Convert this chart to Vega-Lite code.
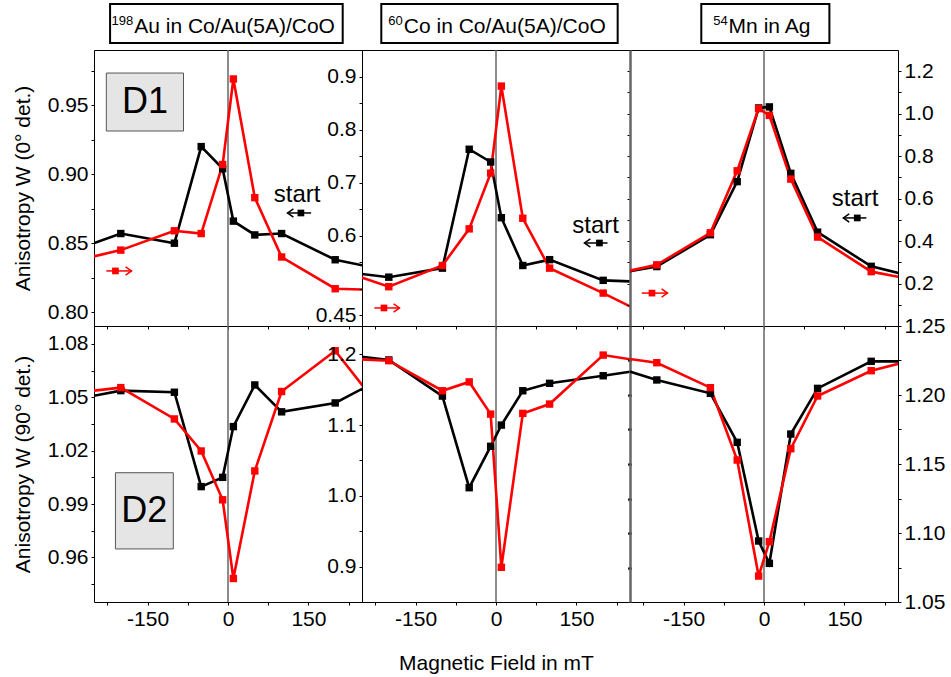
{
"$schema":"https://vega.github.io/schema/vega-lite/v6.json",
"padding":{"left":11,"top":0,"right":0,"bottom":0},
"autosize":{"type":"pad"},
"columns":3,
"spacing":0,
"bounds":"flush",
"datasets":{
"obs":[
{"panel":"Au_D1","series":"black","B":-300,"W":0.843},{"panel":"Au_D1","series":"black","B":-200,"W":0.857},{"panel":"Au_D1","series":"black","B":-100,"W":0.850},{"panel":"Au_D1","series":"black","B":-50,"W":0.920},{"panel":"Au_D1","series":"black","B":-10,"W":0.904},{"panel":"Au_D1","series":"black","B":10,"W":0.866},{"panel":"Au_D1","series":"black","B":50,"W":0.856},{"panel":"Au_D1","series":"black","B":100,"W":0.857},{"panel":"Au_D1","series":"black","B":200,"W":0.838},{"panel":"Au_D1","series":"black","B":300,"W":0.830},
{"panel":"Au_D1","series":"red","B":-300,"W":0.836},{"panel":"Au_D1","series":"red","B":-200,"W":0.845},{"panel":"Au_D1","series":"red","B":-100,"W":0.859},{"panel":"Au_D1","series":"red","B":-50,"W":0.857},{"panel":"Au_D1","series":"red","B":-10,"W":0.907},{"panel":"Au_D1","series":"red","B":10,"W":0.969},{"panel":"Au_D1","series":"red","B":50,"W":0.883},{"panel":"Au_D1","series":"red","B":100,"W":0.840},{"panel":"Au_D1","series":"red","B":200,"W":0.817},{"panel":"Au_D1","series":"red","B":300,"W":0.816},
{"panel":"Co_D1","series":"black","B":-300,"W":0.534},{"panel":"Co_D1","series":"black","B":-200,"W":0.522},{"panel":"Co_D1","series":"black","B":-100,"W":0.539},{"panel":"Co_D1","series":"black","B":-50,"W":0.763},{"panel":"Co_D1","series":"black","B":-10,"W":0.739},{"panel":"Co_D1","series":"black","B":10,"W":0.634},{"panel":"Co_D1","series":"black","B":50,"W":0.544},{"panel":"Co_D1","series":"black","B":100,"W":0.555},{"panel":"Co_D1","series":"black","B":200,"W":0.516},{"panel":"Co_D1","series":"black","B":300,"W":0.512},
{"panel":"Co_D1","series":"red","B":-300,"W":0.538},{"panel":"Co_D1","series":"red","B":-200,"W":0.504},{"panel":"Co_D1","series":"red","B":-100,"W":0.544},{"panel":"Co_D1","series":"red","B":-50,"W":0.613},{"panel":"Co_D1","series":"red","B":-10,"W":0.718},{"panel":"Co_D1","series":"red","B":10,"W":0.882},{"panel":"Co_D1","series":"red","B":50,"W":0.633},{"panel":"Co_D1","series":"red","B":100,"W":0.539},{"panel":"Co_D1","series":"red","B":200,"W":0.492},{"panel":"Co_D1","series":"red","B":300,"W":0.442},
{"panel":"Mn_D1","series":"black","B":-300,"W":0.236},{"panel":"Mn_D1","series":"black","B":-200,"W":0.280},{"panel":"Mn_D1","series":"black","B":-100,"W":0.430},{"panel":"Mn_D1","series":"black","B":-50,"W":0.680},{"panel":"Mn_D1","series":"black","B":-10,"W":1.027},{"panel":"Mn_D1","series":"black","B":10,"W":1.032},{"panel":"Mn_D1","series":"black","B":50,"W":0.719},{"panel":"Mn_D1","series":"black","B":100,"W":0.442},{"panel":"Mn_D1","series":"black","B":200,"W":0.281},{"panel":"Mn_D1","series":"black","B":300,"W":0.219},
{"panel":"Mn_D1","series":"red","B":-300,"W":0.234},{"panel":"Mn_D1","series":"red","B":-200,"W":0.288},{"panel":"Mn_D1","series":"red","B":-100,"W":0.439},{"panel":"Mn_D1","series":"red","B":-50,"W":0.731},{"panel":"Mn_D1","series":"red","B":-10,"W":1.024},{"panel":"Mn_D1","series":"red","B":10,"W":0.992},{"panel":"Mn_D1","series":"red","B":50,"W":0.692},{"panel":"Mn_D1","series":"red","B":100,"W":0.419},{"panel":"Mn_D1","series":"red","B":200,"W":0.256},{"panel":"Mn_D1","series":"red","B":300,"W":0.208},
{"panel":"Au_D2","series":"black","B":-300,"W":1.048},{"panel":"Au_D2","series":"black","B":-200,"W":1.0537},{"panel":"Au_D2","series":"black","B":-100,"W":1.0528},{"panel":"Au_D2","series":"black","B":-50,"W":0.9998},{"panel":"Au_D2","series":"black","B":-10,"W":1.005},{"panel":"Au_D2","series":"black","B":10,"W":1.0335},{"panel":"Au_D2","series":"black","B":50,"W":1.0569},{"panel":"Au_D2","series":"black","B":100,"W":1.0418},{"panel":"Au_D2","series":"black","B":200,"W":1.0468},{"panel":"Au_D2","series":"black","B":300,"W":1.0626},
{"panel":"Au_D2","series":"red","B":-300,"W":1.052},{"panel":"Au_D2","series":"red","B":-200,"W":1.0554},{"panel":"Au_D2","series":"red","B":-100,"W":1.0378},{"panel":"Au_D2","series":"red","B":-50,"W":1.0198},{"panel":"Au_D2","series":"red","B":-10,"W":0.9924},{"panel":"Au_D2","series":"red","B":10,"W":0.9482},{"panel":"Au_D2","series":"red","B":50,"W":1.0086},{"panel":"Au_D2","series":"red","B":100,"W":1.0532},{"panel":"Au_D2","series":"red","B":200,"W":1.0761},{"panel":"Au_D2","series":"red","B":300,"W":1.0377},
{"panel":"Co_D2","series":"black","B":-300,"W":1.201},{"panel":"Co_D2","series":"black","B":-200,"W":1.192},{"panel":"Co_D2","series":"black","B":-100,"W":1.141},{"panel":"Co_D2","series":"black","B":-50,"W":1.0115},{"panel":"Co_D2","series":"black","B":-10,"W":1.070},{"panel":"Co_D2","series":"black","B":10,"W":1.100},{"panel":"Co_D2","series":"black","B":50,"W":1.1485},{"panel":"Co_D2","series":"black","B":100,"W":1.159},{"panel":"Co_D2","series":"black","B":200,"W":1.1697},{"panel":"Co_D2","series":"black","B":300,"W":1.181},
{"panel":"Co_D2","series":"red","B":-300,"W":1.1946},{"panel":"Co_D2","series":"red","B":-200,"W":1.191},{"panel":"Co_D2","series":"red","B":-100,"W":1.1485},{"panel":"Co_D2","series":"red","B":-50,"W":1.161},{"panel":"Co_D2","series":"red","B":-10,"W":1.1155},{"panel":"Co_D2","series":"red","B":10,"W":0.899},{"panel":"Co_D2","series":"red","B":50,"W":1.1165},{"panel":"Co_D2","series":"red","B":100,"W":1.1297},{"panel":"Co_D2","series":"red","B":200,"W":1.1989},{"panel":"Co_D2","series":"red","B":300,"W":1.187},
{"panel":"Mn_D2","series":"black","B":-300,"W":1.2229},{"panel":"Mn_D2","series":"black","B":-200,"W":1.2109},{"panel":"Mn_D2","series":"black","B":-100,"W":1.2012},{"panel":"Mn_D2","series":"black","B":-50,"W":1.1657},{"panel":"Mn_D2","series":"black","B":-10,"W":1.0942},{"panel":"Mn_D2","series":"black","B":10,"W":1.078},{"panel":"Mn_D2","series":"black","B":50,"W":1.1717},{"panel":"Mn_D2","series":"black","B":100,"W":1.2048},{"panel":"Mn_D2","series":"black","B":200,"W":1.2244},{"panel":"Mn_D2","series":"black","B":300,"W":1.2244},
{"panel":"Mn_D2","series":"red","B":-300,"W":1.2288},{"panel":"Mn_D2","series":"red","B":-200,"W":1.2234},{"panel":"Mn_D2","series":"red","B":-100,"W":1.2053},{"panel":"Mn_D2","series":"red","B":-50,"W":1.1529},{"panel":"Mn_D2","series":"red","B":-10,"W":1.0688},{"panel":"Mn_D2","series":"red","B":10,"W":1.0937},{"panel":"Mn_D2","series":"red","B":50,"W":1.1611},{"panel":"Mn_D2","series":"red","B":100,"W":1.1993},{"panel":"Mn_D2","series":"red","B":200,"W":1.2176},{"panel":"Mn_D2","series":"red","B":300,"W":1.2274}
],
"dbox":[
{"panel":"Au_D1","label":"D1","B":-227,"B2":-83,"W":0.9733,"W2":0.9313,"Bc":-155,"Wc":0.9523},
{"panel":"Au_D2","label":"D2","B":-210,"B2":-102,"W":1.0076,"W2":0.9648,"Bc":-156,"Wc":0.9861}
],
"start":[
{"panel":"Au_D1","label":"start","B":129,"W":0.885},
{"panel":"Co_D1","label":"start","B":186,"W":0.618},
{"panel":"Mn_D1","label":"start","B":170,"W":0.598}
],
"arrows":[
{"panel":"Au_D1","series":"black","B":155,"B2":111,"Bm":136,"W":0.8719},
{"panel":"Au_D1","series":"red","B":-227,"B2":-180,"Bm":-210,"W":0.8299},
{"panel":"Co_D1","series":"black","B":208,"B2":165,"Bm":193,"W":0.5864},
{"panel":"Co_D1","series":"red","B":-227,"B2":-180,"Bm":-209,"W":0.464},
{"panel":"Mn_D1","series":"black","B":191,"B2":148,"Bm":174,"W":0.509},
{"panel":"Mn_D1","series":"red","B":-228,"B2":-180,"Bm":-209,"W":0.155}
],
"heads":[
{"col":"Au","sup":"198","label":"Au in Co/Au(5A)/CoO","B":-220,"B2":214,"Bt":-175},
{"col":"Co","sup":"60","label":"Co in Co/Au(5A)/CoO","B":-214,"B2":227,"Bt":-172},
{"col":"Mn","sup":"54","label":"Mn in Ag","B":-117,"B2":122,"Bt":-66}
]
},
"concat":[
{"width":268,"height":50,"view":{"stroke":null},"data":{"name":"heads"},"transform":[{"filter":"datum.col==='Au'"}],"layer":[
{"mark":{"type":"rect","fill":"#ffffff","stroke":"#000000","strokeWidth":2},"encoding":{"x":{"field":"B","type":"quantitative","scale":{"domain":[-250,250],"nice":false,"zero":false},"axis":null},"x2":{"field":"B2"},"y":{"datum":46,"type":"quantitative","scale":{"domain":[0,50],"nice":false},"axis":null},"y2":{"datum":7}}},
{"mark":{"type":"text","fontSize":21,"baseline":"middle","align":"left"},"encoding":{"x":{"field":"Bt","type":"quantitative","axis":null},"y":{"datum":23.5,"type":"quantitative","axis":null},"text":{"field":"label"}}},
{"mark":{"type":"text","fontSize":13,"baseline":"middle","align":"right","dx":-1,"dy":-6},"encoding":{"x":{"field":"Bt","type":"quantitative","axis":null},"y":{"datum":23.5,"type":"quantitative","axis":null},"text":{"field":"sup"}}}
]},
{"width":268,"height":50,"view":{"stroke":null},"data":{"name":"heads"},"transform":[{"filter":"datum.col==='Co'"}],"layer":[
{"mark":{"type":"rect","fill":"#ffffff","stroke":"#000000","strokeWidth":2},"encoding":{"x":{"field":"B","type":"quantitative","scale":{"domain":[-250,250],"nice":false,"zero":false},"axis":null},"x2":{"field":"B2"},"y":{"datum":46,"type":"quantitative","scale":{"domain":[0,50],"nice":false},"axis":null},"y2":{"datum":7}}},
{"mark":{"type":"text","fontSize":21,"baseline":"middle","align":"left"},"encoding":{"x":{"field":"Bt","type":"quantitative","axis":null},"y":{"datum":23.5,"type":"quantitative","axis":null},"text":{"field":"label"}}},
{"mark":{"type":"text","fontSize":13,"baseline":"middle","align":"right","dx":-1,"dy":-6},"encoding":{"x":{"field":"Bt","type":"quantitative","axis":null},"y":{"datum":23.5,"type":"quantitative","axis":null},"text":{"field":"sup"}}}
]},
{"width":268,"height":50,"view":{"stroke":null},"data":{"name":"heads"},"transform":[{"filter":"datum.col==='Mn'"}],"layer":[
{"mark":{"type":"rect","fill":"#ffffff","stroke":"#000000","strokeWidth":2},"encoding":{"x":{"field":"B","type":"quantitative","scale":{"domain":[-250,250],"nice":false,"zero":false},"axis":null},"x2":{"field":"B2"},"y":{"datum":46,"type":"quantitative","scale":{"domain":[0,50],"nice":false},"axis":null},"y2":{"datum":7}}},
{"mark":{"type":"text","fontSize":21,"baseline":"middle","align":"left"},"encoding":{"x":{"field":"Bt","type":"quantitative","axis":null},"y":{"datum":23.5,"type":"quantitative","axis":null},"text":{"field":"label"}}},
{"mark":{"type":"text","fontSize":13,"baseline":"middle","align":"right","dx":-1,"dy":-6},"encoding":{"x":{"field":"Bt","type":"quantitative","axis":null},"y":{"datum":23.5,"type":"quantitative","axis":null},"text":{"field":"sup"}}}
]},

{"width":268,"height":276,"resolve":{"axis":{"x":"independent","y":"independent"}},"layer":[
{"data":{"values":[{}]},"mark":{"type":"rule","color":"#666666","strokeWidth":1.5},"encoding":{"x":{"datum":0,"type":"quantitative","scale":{"domain":[-250,250],"nice":false,"zero":false},"axis":null}}},
{"data":{"name":"obs"},"transform":[{"filter":"datum.panel==='Au_D1'"}],"mark":{"type":"line","strokeWidth":2.6,"clip":true},"encoding":{
"x":{"field":"B","type":"quantitative","scale":{"domain":[-250,250],"nice":false,"zero":false},"axis":{"orient":"bottom","values":[-225,-150,-75,0,75,150,225],"labels":false,"title":null}},
"y":{"field":"W","type":"quantitative","scale":{"domain":[0.79,0.99],"nice":false,"zero":false},"axis":{"orient":"left","values":[0.8,0.825,0.85,0.875,0.9,0.925,0.95,0.975],"labelExpr":"round(datum.value*1000)%50==0 ? format(datum.value,'.2f') : ''","title":"Anisotropy W (0° det.)","titlePadding":14}},
"color":{"field":"series","type":"nominal","scale":{"domain":["black","red"],"range":["#000000","#ff0000"]},"legend":null}}},
{"data":{"name":"obs"},"transform":[{"filter":"datum.panel==='Au_D1'"}],"mark":{"type":"point","shape":"square","filled":true,"size":55,"opacity":1,"clip":true},"encoding":{"x":{"field":"B","type":"quantitative","axis":null},"y":{"field":"W","type":"quantitative","axis":null},"color":{"field":"series","type":"nominal","legend":null}}},
{"data":{"name":"dbox"},"transform":[{"filter":"datum.panel==='Au_D1'"}],"mark":{"type":"rect","fill":"#e5e5e5","stroke":"#555555","strokeWidth":1},"encoding":{"x":{"field":"B","type":"quantitative","axis":null},"x2":{"field":"B2"},"y":{"field":"W","type":"quantitative","axis":null},"y2":{"field":"W2"}}},
{"data":{"name":"dbox"},"transform":[{"filter":"datum.panel==='Au_D1'"}],"mark":{"type":"text","fontSize":36,"color":"#000000","baseline":"middle","align":"center"},"encoding":{"x":{"field":"Bc","type":"quantitative","axis":null},"y":{"field":"Wc","type":"quantitative","axis":null},"text":{"field":"label"}}},
{"data":{"name":"start"},"transform":[{"filter":"datum.panel==='Au_D1'"}],"mark":{"type":"text","fontSize":24,"color":"#000000","baseline":"middle","align":"center"},"encoding":{"x":{"field":"B","type":"quantitative","axis":null},"y":{"field":"W","type":"quantitative","axis":null},"text":{"field":"label"}}},
{"data":{"name":"arrows"},"transform":[{"filter":"datum.panel==='Au_D1'"}],"mark":{"type":"rule","strokeWidth":1.5},"encoding":{"x":{"field":"B","type":"quantitative","axis":null},"x2":{"field":"B2"},"y":{"field":"W","type":"quantitative","axis":null},"color":{"field":"series","type":"nominal","legend":null}}},
{"data":{"name":"arrows"},"transform":[{"filter":"datum.panel==='Au_D1'"}],"mark":{"type":"point","shape":"square","filled":true,"size":45,"opacity":1},"encoding":{"x":{"field":"Bm","type":"quantitative","axis":null},"y":{"field":"W","type":"quantitative","axis":null},"color":{"field":"series","type":"nominal","legend":null}}},
{"data":{"name":"arrows"},"transform":[{"filter":"datum.panel==='Au_D1'"}],"mark":{"type":"point","filled":false,"strokeWidth":1.5,"size":140,"opacity":1},"encoding":{"x":{"field":"B2","type":"quantitative","axis":null},"y":{"field":"W","type":"quantitative","axis":null},"color":{"field":"series","type":"nominal","legend":null},"shape":{"field":"series","type":"nominal","scale":{"domain":["black","red"],"range":["M1,-0.7L0,0L1,0.7","M-1,-0.7L0,0L-1,0.7"]},"legend":null}}}
]},

{"width":268,"height":276,"resolve":{"axis":{"x":"independent","y":"independent"}},"layer":[
{"data":{"values":[{}]},"mark":{"type":"rule","color":"#666666","strokeWidth":1.5},"encoding":{"x":{"datum":0,"type":"quantitative","scale":{"domain":[-250,250],"nice":false,"zero":false},"axis":null}}},
{"data":{"name":"obs"},"transform":[{"filter":"datum.panel==='Co_D1'"}],"mark":{"type":"line","strokeWidth":2.6,"clip":true},"encoding":{
"x":{"field":"B","type":"quantitative","scale":{"domain":[-250,250],"nice":false,"zero":false},"axis":{"orient":"bottom","values":[-225,-150,-75,0,75,150,225],"labels":false,"title":null}},
"y":{"field":"W","type":"quantitative","scale":{"domain":[0.43,0.95],"nice":false,"zero":false},"axis":{"orient":"left","values":[0.45,0.5,0.55,0.6,0.65,0.7,0.75,0.8,0.85,0.9],"labelExpr":"round(datum.value*1000)==450 ? '0.45' : (indexof([600,700,800,900], round(datum.value*1000))>=0 ? format(datum.value,'.1f') : '')","title":null}},
"color":{"field":"series","type":"nominal","scale":{"domain":["black","red"],"range":["#000000","#ff0000"]},"legend":null}}},
{"data":{"name":"obs"},"transform":[{"filter":"datum.panel==='Co_D1'"}],"mark":{"type":"point","shape":"square","filled":true,"size":55,"opacity":1,"clip":true},"encoding":{"x":{"field":"B","type":"quantitative","axis":null},"y":{"field":"W","type":"quantitative","axis":null},"color":{"field":"series","type":"nominal","legend":null}}},
{"data":{"name":"start"},"transform":[{"filter":"datum.panel==='Co_D1'"}],"mark":{"type":"text","fontSize":24,"color":"#000000","baseline":"middle","align":"center"},"encoding":{"x":{"field":"B","type":"quantitative","axis":null},"y":{"field":"W","type":"quantitative","axis":null},"text":{"field":"label"}}},
{"data":{"name":"arrows"},"transform":[{"filter":"datum.panel==='Co_D1'"}],"mark":{"type":"rule","strokeWidth":1.5},"encoding":{"x":{"field":"B","type":"quantitative","axis":null},"x2":{"field":"B2"},"y":{"field":"W","type":"quantitative","axis":null},"color":{"field":"series","type":"nominal","legend":null}}},
{"data":{"name":"arrows"},"transform":[{"filter":"datum.panel==='Co_D1'"}],"mark":{"type":"point","shape":"square","filled":true,"size":45,"opacity":1},"encoding":{"x":{"field":"Bm","type":"quantitative","axis":null},"y":{"field":"W","type":"quantitative","axis":null},"color":{"field":"series","type":"nominal","legend":null}}},
{"data":{"name":"arrows"},"transform":[{"filter":"datum.panel==='Co_D1'"}],"mark":{"type":"point","filled":false,"strokeWidth":1.5,"size":140,"opacity":1},"encoding":{"x":{"field":"B2","type":"quantitative","axis":null},"y":{"field":"W","type":"quantitative","axis":null},"color":{"field":"series","type":"nominal","legend":null},"shape":{"field":"series","type":"nominal","scale":{"domain":["black","red"],"range":["M1,-0.7L0,0L1,0.7","M-1,-0.7L0,0L-1,0.7"]},"legend":null}}}
]},

{"width":268,"height":276,"resolve":{"axis":{"x":"independent","y":"independent"}},"layer":[
{"data":{"values":[{}]},"mark":{"type":"rule","color":"#666666","strokeWidth":1.5},"encoding":{"x":{"datum":0,"type":"quantitative","scale":{"domain":[-250,250],"nice":false,"zero":false},"axis":null}}},
{"data":{"name":"obs"},"transform":[{"filter":"datum.panel==='Mn_D1'"}],"mark":{"type":"line","strokeWidth":2.6,"clip":true},"encoding":{
"x":{"field":"B","type":"quantitative","scale":{"domain":[-250,250],"nice":false,"zero":false},"axis":{"orient":"bottom","values":[-225,-150,-75,0,75,150,225],"labels":false,"title":null}},
"y":{"field":"W","type":"quantitative","scale":{"domain":[0,1.3],"nice":false,"zero":false},"axis":{"orient":"right","values":[0.1,0.2,0.3,0.4,0.5,0.6,0.7,0.8,0.9,1.0,1.1,1.2],"labelExpr":"round(datum.value*10)%2==0 ? format(datum.value,'.1f') : ''","title":null}},
"color":{"field":"series","type":"nominal","scale":{"domain":["black","red"],"range":["#000000","#ff0000"]},"legend":null}}},
{"data":{"name":"obs"},"transform":[{"filter":"datum.panel==='Mn_D1'"}],"mark":{"type":"point","shape":"square","filled":true,"size":55,"opacity":1,"clip":true},"encoding":{"x":{"field":"B","type":"quantitative","axis":null},"y":{"field":"W","type":"quantitative","axis":{"orient":"left","labels":false,"title":null,"domain":true,"domainColor":"#666666","domainWidth":2.5,"values":[0.1,0.2,0.3,0.4,0.5,0.6,0.7,0.8,0.9,1.0,1.1,1.2],"tickSize":3}},"color":{"field":"series","type":"nominal","legend":null}}},
{"data":{"name":"start"},"transform":[{"filter":"datum.panel==='Mn_D1'"}],"mark":{"type":"text","fontSize":24,"color":"#000000","baseline":"middle","align":"center"},"encoding":{"x":{"field":"B","type":"quantitative","axis":null},"y":{"field":"W","type":"quantitative","axis":null},"text":{"field":"label"}}},
{"data":{"name":"arrows"},"transform":[{"filter":"datum.panel==='Mn_D1'"}],"mark":{"type":"rule","strokeWidth":1.5},"encoding":{"x":{"field":"B","type":"quantitative","axis":null},"x2":{"field":"B2"},"y":{"field":"W","type":"quantitative","axis":null},"color":{"field":"series","type":"nominal","legend":null}}},
{"data":{"name":"arrows"},"transform":[{"filter":"datum.panel==='Mn_D1'"}],"mark":{"type":"point","shape":"square","filled":true,"size":45,"opacity":1},"encoding":{"x":{"field":"Bm","type":"quantitative","axis":null},"y":{"field":"W","type":"quantitative","axis":null},"color":{"field":"series","type":"nominal","legend":null}}},
{"data":{"name":"arrows"},"transform":[{"filter":"datum.panel==='Mn_D1'"}],"mark":{"type":"point","filled":false,"strokeWidth":1.5,"size":140,"opacity":1},"encoding":{"x":{"field":"B2","type":"quantitative","axis":null},"y":{"field":"W","type":"quantitative","axis":null},"color":{"field":"series","type":"nominal","legend":null},"shape":{"field":"series","type":"nominal","scale":{"domain":["black","red"],"range":["M1,-0.7L0,0L1,0.7","M-1,-0.7L0,0L-1,0.7"]},"legend":null}}}
]},

{"width":268,"height":276,"resolve":{"axis":{"x":"independent","y":"independent"}},"layer":[
{"data":{"values":[{}]},"mark":{"type":"rule","color":"#666666","strokeWidth":1.5},"encoding":{"x":{"datum":0,"type":"quantitative","scale":{"domain":[-250,250],"nice":false,"zero":false},"axis":null}}},
{"data":{"name":"obs"},"transform":[{"filter":"datum.panel==='Au_D2'"}],"mark":{"type":"line","strokeWidth":2.6,"clip":true},"encoding":{
"x":{"field":"B","type":"quantitative","scale":{"domain":[-250,250],"nice":false,"zero":false},"axis":{"orient":"bottom","values":[-225,-150,-75,0,75,150,225],"labelExpr":"datum.value%150==0 ? toString(datum.value) : ''","title":null}},
"y":{"field":"W","type":"quantitative","scale":{"domain":[0.935,1.09],"nice":false,"zero":false},"axis":{"orient":"left","values":[0.945,0.96,0.975,0.99,1.005,1.02,1.035,1.05,1.065,1.08],"labelExpr":"round(datum.value*1000)%30==0 ? format(datum.value,'.2f') : ''","title":"Anisotropy W (90° det.)","titlePadding":14}},
"color":{"field":"series","type":"nominal","scale":{"domain":["black","red"],"range":["#000000","#ff0000"]},"legend":null}}},
{"data":{"name":"obs"},"transform":[{"filter":"datum.panel==='Au_D2'"}],"mark":{"type":"point","shape":"square","filled":true,"size":55,"opacity":1,"clip":true},"encoding":{"x":{"field":"B","type":"quantitative","axis":null},"y":{"field":"W","type":"quantitative","axis":null},"color":{"field":"series","type":"nominal","legend":null}}},
{"data":{"name":"dbox"},"transform":[{"filter":"datum.panel==='Au_D2'"}],"mark":{"type":"rect","fill":"#e5e5e5","stroke":"#555555","strokeWidth":1},"encoding":{"x":{"field":"B","type":"quantitative","axis":null},"x2":{"field":"B2"},"y":{"field":"W","type":"quantitative","axis":null},"y2":{"field":"W2"}}},
{"data":{"name":"dbox"},"transform":[{"filter":"datum.panel==='Au_D2'"}],"mark":{"type":"text","fontSize":36,"color":"#000000","baseline":"middle","align":"center"},"encoding":{"x":{"field":"Bc","type":"quantitative","axis":null},"y":{"field":"Wc","type":"quantitative","axis":null},"text":{"field":"label"}}}
]},

{"width":268,"height":276,"resolve":{"axis":{"x":"independent","y":"independent"}},"layer":[
{"data":{"values":[{}]},"mark":{"type":"rule","color":"#666666","strokeWidth":1.5},"encoding":{"x":{"datum":0,"type":"quantitative","scale":{"domain":[-250,250],"nice":false,"zero":false},"axis":null}}},
{"data":{"name":"obs"},"transform":[{"filter":"datum.panel==='Co_D2'"}],"mark":{"type":"line","strokeWidth":2.6,"clip":true},"encoding":{
"x":{"field":"B","type":"quantitative","scale":{"domain":[-250,250],"nice":false,"zero":false},"axis":{"orient":"bottom","values":[-225,-150,-75,0,75,150,225],"labelExpr":"datum.value%150==0 ? toString(datum.value) : ''","title":"Magnetic Field in mT","titlePadding":23}},
"y":{"field":"W","type":"quantitative","scale":{"domain":[0.85,1.24],"nice":false,"zero":false},"axis":{"orient":"left","values":[0.9,0.95,1.0,1.05,1.1,1.15,1.2],"labelExpr":"round(datum.value*100)%10==0 ? format(datum.value,'.1f') : ''","title":null}},
"color":{"field":"series","type":"nominal","scale":{"domain":["black","red"],"range":["#000000","#ff0000"]},"legend":null}}},
{"data":{"name":"obs"},"transform":[{"filter":"datum.panel==='Co_D2'"}],"mark":{"type":"point","shape":"square","filled":true,"size":55,"opacity":1,"clip":true},"encoding":{"x":{"field":"B","type":"quantitative","axis":null},"y":{"field":"W","type":"quantitative","axis":null},"color":{"field":"series","type":"nominal","legend":null}}}
]},

{"width":268,"height":276,"resolve":{"axis":{"x":"independent","y":"independent"}},"layer":[
{"data":{"values":[{}]},"mark":{"type":"rule","color":"#666666","strokeWidth":1.5},"encoding":{"x":{"datum":0,"type":"quantitative","scale":{"domain":[-250,250],"nice":false,"zero":false},"axis":null}}},
{"data":{"name":"obs"},"transform":[{"filter":"datum.panel==='Mn_D2'"}],"mark":{"type":"line","strokeWidth":2.6,"clip":true},"encoding":{
"x":{"field":"B","type":"quantitative","scale":{"domain":[-250,250],"nice":false,"zero":false},"axis":{"orient":"bottom","values":[-225,-150,-75,0,75,150,225],"labelExpr":"datum.value%150==0 ? toString(datum.value) : ''","title":null}},
"y":{"field":"W","type":"quantitative","scale":{"domain":[1.05,1.25],"nice":false,"zero":false},"axis":{"orient":"right","values":[1.05,1.075,1.1,1.125,1.15,1.175,1.2,1.225,1.25],"labelExpr":"round(datum.value*1000)%50==0 ? format(datum.value,'.2f') : ''","title":null}},
"color":{"field":"series","type":"nominal","scale":{"domain":["black","red"],"range":["#000000","#ff0000"]},"legend":null}}},
{"data":{"name":"obs"},"transform":[{"filter":"datum.panel==='Mn_D2'"}],"mark":{"type":"point","shape":"square","filled":true,"size":55,"opacity":1,"clip":true},"encoding":{"x":{"field":"B","type":"quantitative","axis":null},"y":{"field":"W","type":"quantitative","axis":{"orient":"left","labels":false,"title":null,"domain":true,"domainColor":"#666666","domainWidth":2.5,"values":[1.075,1.1,1.125,1.15,1.175,1.2,1.225],"tickSize":1,"tickWidth":3,"tickCap":"round"}},"color":{"field":"series","type":"nominal","legend":null}}}
]}
],
"config":{
"view":{"stroke":"#000000","strokeWidth":1},
"axis":{"grid":false,"domain":false,"labelFont":"Liberation Sans","titleFont":"Liberation Sans","labelFontSize":21,"titleFontSize":21,"titleFontWeight":"normal","labelColor":"#000000","titleColor":"#000000","tickColor":"#000000","tickSize":3,"labelPadding":3,"labelFlush":false,"labelOverlap":false},
"text":{"font":"Liberation Sans"}
}
}
